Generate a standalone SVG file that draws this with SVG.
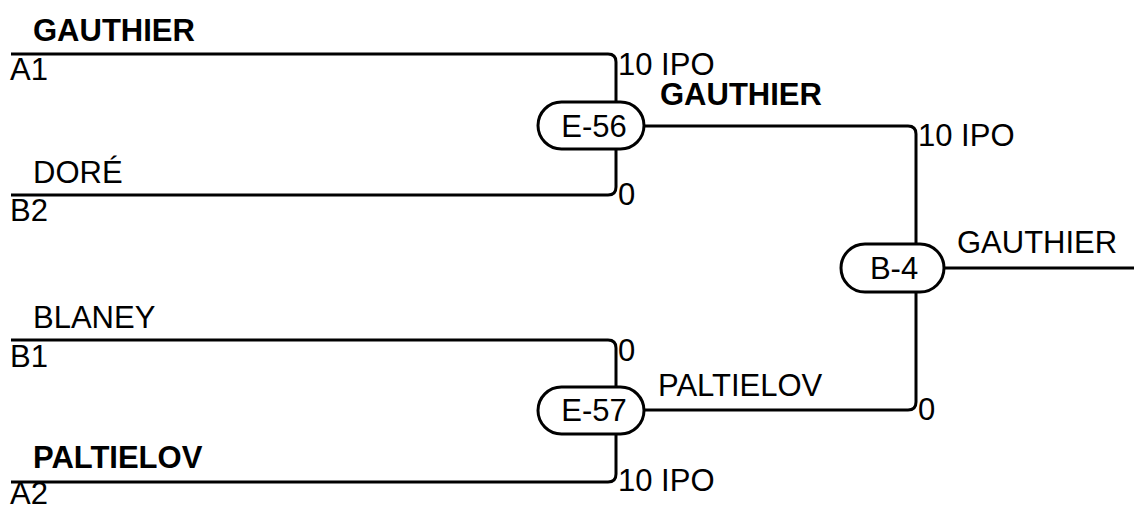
<svg xmlns="http://www.w3.org/2000/svg" width="1134" height="511" viewBox="0 0 1134 511">
<style>
.ln{fill:none;stroke:#000;stroke-width:3}
.pill{fill:#fff;stroke:#000;stroke-width:3}
text{font-family:"Liberation Sans",Arial,sans-serif;font-size:31px;fill:#000}
.b{font-weight:bold}
.c{text-anchor:middle}
</style>
<rect width="1134" height="511" fill="#fff"/>
<g id="connectors">
<path class="ln" d="M11,54 H608 Q616,54 616,62 V102"/>
<path class="ln" d="M11,195 H608 Q616,195 616,187 V149"/>
<path class="ln" d="M644,126 H908 Q916,126 916,134 V244"/>
<path class="ln" d="M11,340 H608 Q616,340 616,348 V387"/>
<path class="ln" d="M11,482 H608 Q616,482 616,474 V434"/>
<path class="ln" d="M644,410 H908 Q916,410 916,402 V292"/>
<path class="ln" d="M944,268 H1134"/>
</g>
<g id="entries">
<text class="b" x="33" y="41">GAUTHIER</text>
<text x="10" y="80">A1</text>
<text x="33" y="183">DORÉ</text>
<text x="10" y="221">B2</text>
<text x="33" y="328">BLANEY</text>
<text x="10" y="367">B1</text>
<text class="b" x="33" y="468">PALTIELOV</text>
<text x="10" y="504">A2</text>
</g>
<g id="scores">
<text x="618" y="75">10 IPO</text>
<text x="618" y="205">0</text>
<text x="618" y="361">0</text>
<text x="618" y="491">10 IPO</text>
<text x="918" y="146">10 IPO</text>
<text x="918" y="420">0</text>
</g>
<g id="E-56">
<rect class="pill" x="538" y="102" width="106" height="47" rx="23.5"/>
<text class="c" x="594" y="137">E-56</text>
</g>
<text id="w56" class="b" x="660" y="105">GAUTHIER</text>
<g id="E-57">
<rect class="pill" x="538" y="387" width="106" height="47" rx="23.5"/>
<text class="c" x="594" y="421">E-57</text>
</g>
<text id="w57" x="658" y="396">PALTIELOV</text>
<g id="B-4">
<rect class="pill" x="841" y="244" width="103" height="48" rx="24"/>
<text class="c" x="894" y="279">B-4</text>
</g>
<text id="wB4" x="957" y="253">GAUTHIER</text>
</svg>
